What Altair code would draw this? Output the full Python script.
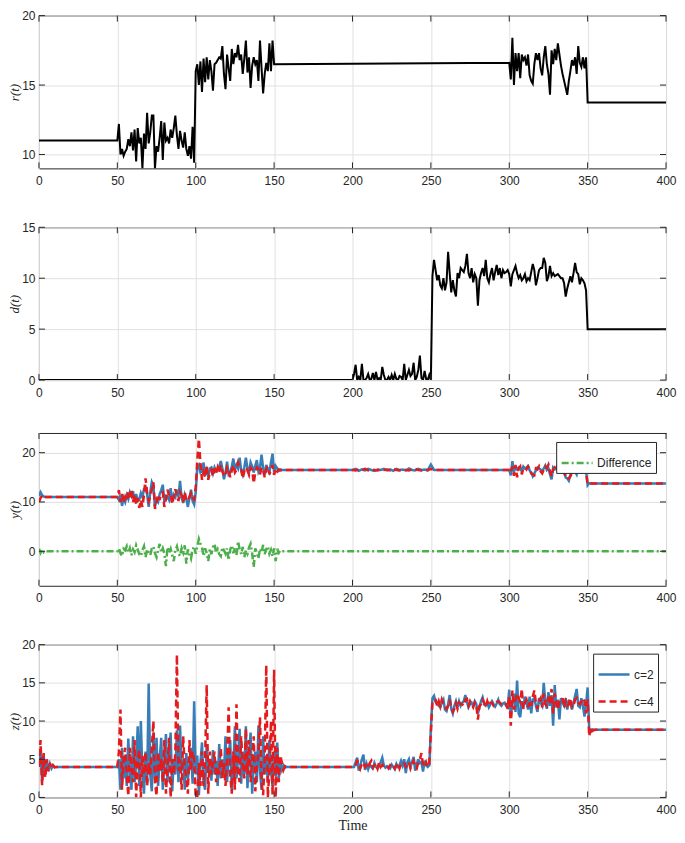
import altair as alt
import pandas as pd

# ---------------- data ----------------
X_TICKS = [0, 50, 100, 150, 200, 250, 300, 350, 400]

# r(t): 11 until t=50, noisy 50..150, 16.5 until 300, noisy 300..350, 13.75 after
R_START = 11.0
R_SEG1_T0 = 50
R_SEG1 = [
    11.0, 12.2, 10.0, 10.4, 9.9, 10.2, 10.4, 11.1, 10.6, 11.6,
    10.3, 11.8, 9.5, 11.9, 10.8, 11.2, 9.0, 11.5, 10.4, 13.0,
    10.8, 11.6, 12.8, 12.8, 9.0, 10.6, 10.2, 11.2, 12.4, 9.6,
    12.3, 11.0, 11.2, 10.8, 11.8, 11.2, 11.9, 12.8, 11.4, 10.4,
    11.7, 11.0, 10.5, 11.6, 10.4, 9.9, 10.6, 9.7, 12.0, 9.4,
    16.0, 16.5, 15.0, 16.7, 14.5, 16.9, 15.2, 17.0, 15.4, 16.8,
    16.0, 14.6, 16.5, 16.6, 16.8, 17.0, 16.9, 17.8, 15.8, 14.7,
    17.2, 16.2, 15.3, 17.6, 16.5, 17.3, 17.0, 17.9, 16.8, 17.2,
    15.8, 16.9, 18.2, 15.9, 17.0, 14.8, 16.4, 17.0, 16.5, 16.8,
    15.3, 18.2, 16.2, 14.4, 15.8, 16.6, 16.0, 18.0, 16.0, 18.2,
    16.5,
]
R_SEG2_T0 = 300
R_SEG2 = [
    16.6, 15.4, 18.4, 15.0, 17.3, 16.0, 17.3, 15.5, 17.2, 16.8,
    17.0, 16.4, 17.2, 15.7, 15.3, 15.1, 16.5, 17.3, 16.8, 17.3,
    16.2, 15.7, 17.0, 17.8, 16.5, 15.8, 14.3, 17.5, 16.5, 17.6,
    16.8, 18.0, 17.2, 16.4, 15.8, 15.3, 14.8, 14.3, 15.3, 16.0,
    16.8, 16.4, 17.0, 15.8, 17.8, 16.6, 16.3, 17.0, 16.2, 17.0,
    13.75,
]
R_END = 13.75
R_TICKS = [10, 15, 20]

# d(t): 0 until 200, small spikes 200..250, noisy 250..350, 5 after
D_SEG_T0 = 200
D_SEG = [
    0.0, 0.6, 1.5, 0.0, 0.3, 0.0, 1.6, 0.0, 0.0, 0.2,
    0.6, 0.0, 0.1, 0.7, 0.0, 0.8, 0.0, 0.2, 0.0, 1.3,
    0.5, 0.0, 0.0, 0.3, 0.0, 0.5, 0.0, 0.6, 0.1, 0.0,
    0.4, 0.3, 0.0, 1.6, 0.0, 0.5, 1.0, 0.4, 0.6, 1.7,
    0.0, 0.3, 1.0, 2.4, 0.2, 0.0, 0.9, 0.1, 0.0, 0.5,
    0.0,
    10.2, 11.8, 10.8, 9.8, 10.3, 9.3, 9.0, 10.0, 8.8, 9.6,
    12.6, 10.5, 8.6, 9.8, 8.8, 8.2, 10.5, 10.0, 11.0, 10.8,
    10.6, 11.2, 12.4, 10.5, 10.0, 11.0, 9.6, 10.4, 10.0, 7.3,
    9.8, 10.5, 11.0, 10.2, 11.8, 10.0, 9.6, 10.4, 11.0, 9.8,
    10.6, 11.3, 10.3, 11.0, 10.0, 10.8, 10.5, 10.6, 10.8, 10.4,
    9.2, 10.4, 10.8, 11.2, 10.5, 10.0, 10.3, 9.8, 10.0, 10.4,
    9.7, 10.0, 9.8, 10.6, 11.4, 10.8, 9.3, 10.0, 10.8, 11.0,
    11.0, 12.0, 11.5, 9.7, 10.2, 11.2, 10.2, 10.5, 10.2, 10.3,
    10.4, 10.2, 10.0, 10.0, 9.5, 8.2, 9.0, 9.6, 10.2, 9.6,
    10.5, 11.5, 10.6, 10.4, 9.4, 10.0, 9.8, 9.5, 8.8, 5.0,
]
D_END = 5.0
D_TICKS = [0, 5, 10, 15]

# y(t): c=2 (blue) and c=4 (red)
Y2_A = [11.2, 12.0, 11.4, 11.1, 11.0, 11.0]           # t = 0..5
Y4_A = [10.0, 10.8, 11.3, 10.9, 11.0, 11.0]
Y2_B = [                                               # t = 50..155
    11.0, 10.4, 11.5, 9.2, 10.8, 10.0, 11.4, 10.6, 12.0, 11.2,
    12.2, 10.0, 11.6, 10.2, 10.5, 11.8, 11.0, 12.6, 13.0, 11.5,
    9.0, 12.0, 14.0, 13.2, 9.0, 10.5, 10.0, 11.6, 12.4, 13.5,
    10.0, 11.2, 11.0, 10.4, 12.8, 10.0, 11.5, 11.0, 12.5, 11.0,
    14.3, 10.8, 9.8, 11.5, 10.6, 9.0, 10.8, 12.5, 10.2, 9.5,
    12.0, 17.0, 17.5, 16.0, 16.2, 18.0, 15.5, 16.5, 15.0, 16.8,
    17.0, 15.8, 17.0, 16.2, 16.5, 17.2, 18.3, 16.8, 14.6, 16.0,
    18.2, 15.6, 16.0, 17.2, 18.8, 16.5, 17.5, 16.8, 19.0, 16.4,
    15.5, 17.0, 19.0, 16.8, 16.0, 18.0, 17.2, 16.0, 17.4, 18.5,
    16.2, 17.0, 19.6, 16.8, 15.5, 17.5, 16.6, 16.0, 18.0, 19.8,
    16.0, 17.3, 16.8, 16.3, 16.6, 16.5,
]
Y4_B = [
    11.0, 12.4, 10.0, 11.6, 9.8, 11.0, 10.2, 12.0, 11.0, 12.6,
    10.0, 11.6, 9.5, 10.8, 8.8, 10.4, 9.0, 11.4, 14.8, 12.0,
    10.2, 11.0, 12.5, 14.0, 8.6, 10.0, 11.5, 10.4, 11.8, 12.0,
    9.0, 10.6, 12.5, 11.2, 11.5, 9.6, 11.0, 12.6, 11.2, 10.2,
    12.0, 11.4, 10.0, 12.0, 10.4, 10.2, 11.0, 11.8, 10.8, 10.5,
    13.0, 18.5, 22.8, 18.0, 14.5, 16.0, 15.0, 17.5, 14.5, 16.0,
    16.5, 15.2, 16.8, 15.8, 17.0, 16.0, 17.5, 16.2, 15.5, 15.2,
    17.0, 16.4, 15.0, 16.4, 17.5, 16.0, 16.5, 18.0, 17.2, 16.6,
    14.8, 16.2, 17.0, 16.4, 15.5, 17.0, 16.6, 13.8, 16.0, 17.0,
    16.8, 15.6, 17.0, 16.4, 15.0, 16.8, 17.2, 15.6, 16.6, 17.5,
    15.5, 16.8, 16.2, 16.6, 16.4, 16.5,
]
Y2_C = [                                               # t = 200..252, step 2
    16.5, 16.7, 16.3, 16.6, 16.4, 16.7, 16.5, 16.3, 16.6, 16.5,
    16.7, 16.4, 16.6, 16.3, 16.7, 16.5, 16.6, 16.4, 16.8, 16.5,
    16.4, 16.7, 16.5, 16.6, 16.4, 17.6, 16.5,
]
Y4_C = [
    16.5, 16.4, 16.6, 16.5, 16.7, 16.4, 16.6, 16.5, 16.4, 16.6,
    16.5, 16.6, 16.4, 16.7, 16.5, 16.4, 16.6, 16.5, 16.4, 16.6,
    16.7, 16.5, 16.4, 16.6, 16.5, 16.7, 16.5,
]
Y2_D = [                                               # t = 300..352
    16.5, 15.4, 18.3, 16.2, 17.0, 16.6, 17.0, 16.8, 16.2, 17.2,
    16.8, 17.0, 17.3, 16.4, 16.0, 15.2, 15.8, 16.4, 17.0, 16.8,
    16.6, 16.2, 16.8, 17.4, 16.5, 16.8, 15.6, 14.6, 17.0, 16.6,
    16.8, 17.4, 18.6, 17.0, 16.4, 16.0, 15.0, 14.8, 14.3, 15.5,
    16.2, 17.0, 16.2, 15.6, 17.0, 16.8, 16.6, 16.2, 16.8, 16.4,
    13.4, 13.8, 13.75,
]
Y4_D = [
    16.5, 16.0, 17.2, 15.3, 17.5, 15.0, 16.8, 17.2, 15.6, 16.8,
    17.0, 16.6, 17.2, 16.8, 15.8, 15.6, 15.4, 16.8, 16.6, 17.2,
    16.2, 15.8, 16.5, 17.2, 16.9, 17.6, 16.2, 15.2, 16.6, 17.0,
    16.4, 17.0, 17.6, 17.2, 16.6, 15.8, 15.4, 14.6, 14.8, 15.2,
    16.0, 16.8, 16.6, 15.8, 16.8, 17.0, 16.2, 16.6, 17.0, 16.0,
    13.6, 13.6, 13.75,
]
Y_END = 13.75
DIFF_A = [0.5, -0.3, 0.4, -0.2, 0.1, 0.0]              # t = 0..5
DIFF_B = [                                             # t = 50..155
    0.0, 0.6, -0.4, -1.0, 0.5, 0.2, 1.0, -0.3, 0.6, -0.8,
    0.4, -0.2, 1.2, 0.3, -0.6, -1.0, 0.2, 1.0, -1.2, 0.4,
    -0.3, -0.8, 0.6, 1.0, -0.4, -1.2, 0.3, 1.5, -0.2, 0.6,
    -0.5, -3.0, 0.8, -0.3, 0.5, -0.8, -2.0, 0.2, 1.0, -0.4,
    -1.0, 0.6, -0.3, 1.2, -2.5, 0.4, -0.6, -1.5, 0.3, 1.0,
    -0.5, 1.0, 2.5, 1.5, 0.8, -1.0, 0.6, -0.4, -2.0, 0.5,
    -0.6, 0.9, 1.5, -0.3, 0.4, -0.6, -1.0, 0.8, 0.2, -0.5,
    0.6, -1.8, 0.3, 1.2, -0.4, 0.7, -0.8, 2.0, 0.4, -0.6,
    0.9, -1.2, 0.2, -0.5, 0.8, 1.5, -0.4, -3.2, 0.6, -0.3,
    -1.5, 0.5, -0.2, 1.3, -0.6, 0.4, 1.0, -0.5, 0.3, -1.0,
    0.6, -2.0, 0.5, -0.3, 0.2, 0.0,
]
Y_TICKS = [0, 10, 20]

# z(t): c=2 (blue) and c=4 (red)
Z2_A = [4.0, 6.2, 2.0, 5.6, 3.0, 4.8, 3.5, 4.4, 3.8, 4.2, 3.95, 4.0]   # t = 0..11
Z4_A = [4.0, 7.5, 1.6, 5.8, 2.6, 5.0, 3.4, 4.5, 3.8, 4.2, 3.95, 4.0]
Z2_B = [                                               # t = 50..158
    4.0, 5.0, 1.0, 6.5, 2.5, 5.5, 1.5, 7.7, 3.0, 1.0,
    8.0, 2.0, 4.5, 9.3, 1.5, 10.0, 3.0, 0.5, 6.0, 2.0,
    14.9, 3.0, 0.8, 8.5, 2.5, 7.8, 1.5, 5.0, 7.8, 1.0,
    4.5, 8.3, 2.0, 5.5, 8.5, 0.8, 5.0, 3.0, 8.8, 2.0,
    9.4, 3.5, 5.0, 1.0, 5.8, 2.5, 4.0, 6.5, 1.8, 12.6,
    3.0, 5.5, 0.3, 4.5, 7.2, 2.0, 1.0, 7.0, 3.5, 5.0,
    2.2, 6.2, 3.0, 4.8, 1.5, 7.0, 2.5, 5.0, 3.0, 8.0,
    2.0, 5.5, 7.5, 0.8, 4.0, 9.3, 2.5, 5.0, 9.0, 1.8,
    6.0, 3.0, 9.3, 1.2, 5.5, 8.5, 0.5, 4.5, 6.0, 2.0,
    9.4, 3.5, 1.0, 8.0, 3.0, 5.5, 2.0, 7.5, 3.5, 1.5,
    6.0, 2.8, 7.2, 2.5, 4.5, 3.6, 4.2, 3.9, 4.0,
]
Z4_B = [
    4.0, 6.0, 11.5, 1.0, 5.0, 6.5, 3.0, 0.2, 6.5, 4.0,
    2.0, 7.5, 0.0, 5.0, 6.3, 0.0, 5.5, 3.0, 6.0, 1.5,
    4.5, 3.0, 6.5, 10.0, 2.0, 0.2, 6.0, 3.5, 5.0, 2.0,
    7.5, 0.5, 4.0, 7.8, 0.0, 5.0, 3.0, 6.0, 18.7, 3.5,
    5.0, 1.0, 8.0, 4.0, 2.5, 0.5, 7.5, 3.5, 6.0, 5.0,
    0.0, 0.0, 4.5, 1.5, 6.0, 1.5, 5.0, 14.7, 0.5, 6.0,
    3.0, 4.5, 6.0, 2.0, 4.0, 3.0, 6.5, 2.5, 4.5, 1.5,
    5.0, 11.8, 3.0, 0.5, 6.0, 1.0, 12.2, 3.5, 2.0, 8.0,
    4.0, 2.5, 9.0, 3.0, 7.5, 2.0, 5.0, 8.0, 0.8, 4.0,
    6.0, 10.5, 2.0, 0.3, 5.0, 17.3, 0.0, 3.5, 10.0, 0.3,
    16.7, 0.0, 6.5, 2.0, 5.5, 4.5, 3.6, 4.1, 4.0,
]
Z2_C = [                                               # t = 200..355
    4.0, 4.0, 4.6, 5.2, 3.5, 4.2, 5.0, 5.6, 3.6, 4.4,
    3.7, 4.3, 4.0, 3.8, 4.5, 4.0, 3.8, 4.2, 4.6, 5.2,
    4.2, 3.9, 4.1, 4.0, 3.8, 4.3, 4.0, 3.7, 4.4, 4.0,
    4.2, 4.8, 4.2, 5.0, 3.2, 4.6, 5.0, 4.0, 4.6, 5.3,
    3.5, 4.4, 5.0, 4.5, 4.6, 3.4, 4.8, 4.2, 4.0, 4.2,
    9.0, 13.0,
    13.3, 12.5, 12.3, 12.0, 11.8, 12.4, 12.8, 11.5,
    11.3, 12.2, 13.4, 11.6, 11.0, 12.0, 12.6, 11.8, 12.6, 12.0,
    12.4, 12.6, 13.4, 12.5, 11.8, 12.2, 12.4, 12.0, 12.6, 12.2,
    11.0, 11.8, 12.6, 13.1, 12.2, 12.0, 12.4, 11.8, 12.2, 12.6,
    12.2, 11.9, 12.3, 12.8, 12.2, 12.0, 12.3, 12.4, 12.0, 11.8,
    14.1, 10.5, 12.5, 13.6, 11.2, 15.3, 11.0, 10.5, 12.6, 11.8,
    13.2, 12.5, 11.5, 13.2, 11.0, 12.8, 13.0, 12.0, 11.2, 13.0,
    12.4, 12.0, 15.0, 12.5, 11.6, 13.8, 12.0, 13.4, 9.4, 14.7,
    11.8, 12.8, 10.2, 13.0, 12.4, 12.0, 13.0, 11.5, 12.6, 12.5,
    11.5, 12.4, 13.3, 14.2, 12.0, 11.8, 13.0, 12.0, 10.6, 12.2,
    14.4, 9.0, 8.6, 8.9, 8.8, 8.85,
]
Z4_C = [
    4.0, 4.0, 4.2, 4.8, 4.6, 3.8, 4.4, 4.6, 4.0, 4.2,
    3.8, 4.5, 4.8, 3.9, 4.2, 4.4, 3.8, 4.6, 4.0, 4.3,
    4.0, 4.0, 4.1, 3.8, 4.2, 4.0, 4.2, 3.8, 4.2, 4.5,
    3.8, 4.3, 4.6, 4.5, 4.0, 4.2, 4.6, 3.8, 4.4, 4.8,
    4.0, 3.8, 4.6, 5.0, 5.8, 4.2, 4.0, 4.6, 4.0, 4.4,
    8.5, 12.5,
    12.8, 12.8, 12.0, 12.6, 11.9, 12.8, 12.2, 11.8,
    11.6, 12.0, 12.8, 11.8, 11.2, 11.6, 12.3, 11.6, 12.4, 12.2,
    12.2, 12.0, 12.8, 12.9, 12.0, 12.6, 12.2, 11.8, 12.4, 12.0,
    10.2, 12.0, 12.2, 12.8, 12.4, 11.8, 12.6, 12.0, 12.4, 12.4,
    12.0, 12.2, 12.5, 12.6, 12.4, 12.2, 12.1, 12.3, 12.2, 11.6,
    13.2, 9.4, 14.0, 11.5, 12.8, 13.6, 13.0, 12.5, 14.2, 11.6,
    12.4, 12.8, 11.8, 12.6, 12.0, 13.2, 14.0, 12.4, 11.6, 12.6,
    13.0, 11.8, 13.6, 12.2, 12.0, 13.2, 12.4, 14.2, 11.0, 13.6,
    12.6, 11.5, 12.5, 12.4, 13.0, 11.8, 12.6, 12.0, 12.2, 13.0,
    11.8, 12.0, 12.8, 13.0, 12.4, 12.2, 12.6, 13.0, 12.6, 11.0,
    12.8, 8.0, 9.2, 8.7, 8.85, 8.85,
]
Z_END = 8.85
Z_TICKS = [0, 5, 10, 15, 20]

# ---------------- helpers ----------------
BLUE, RED, GREEN = "#377eb8", "#e41a1c", "#4daf4a"
INK = "#262626"
W, H = 628, 153
TL = 6
DASH_RED = [7, 4]
DASH_GREEN = [7, 3, 2, 3]


def build(parts, t_end=None, v_end=None):
    ts, vs = [], []
    for t0, step, vals in parts:
        ts += [t0 + i * step for i in range(len(vals))]
        vs += list(vals)
    if t_end is not None:
        ts.append(t_end)
        vs.append(v_end)
    return pd.DataFrame({"time": ts, "val": vs})


r_df = build([(0, 1, [R_START]), (R_SEG1_T0, 1, R_SEG1), (R_SEG2_T0, 1, R_SEG2)], 400, R_END)
d_df = build([(0, 1, [0.0]), (D_SEG_T0, 1, D_SEG)], 400, D_END)
y2_df = build([(0, 1, Y2_A), (50, 1, Y2_B), (200, 2, Y2_C), (300, 1, Y2_D)], 400, Y_END)
y4_df = build([(0, 1, Y4_A), (50, 1, Y4_B), (200, 2, Y4_C), (300, 1, Y4_D)], 400, Y_END)
df_df = build([(0, 1, DIFF_A), (50, 1, DIFF_B)], 400, 0.0)
df_df["lg"] = "Difference"
z2_df = build([(0, 1, Z2_A), (50, 1, Z2_B), (200, 1, Z2_C)], 400, Z_END)
z2_df["series"] = "c=2"
z4_df = build([(0, 1, Z4_A), (50, 1, Z4_B), (200, 1, Z4_C)], 400, Z_END)
z4_df["series"] = "c=4"


def enc(ydomain, yticks, ytitle, xtitle=None):
    xaxis_kw = dict(values=X_TICKS, labelPadding=7, labelFlush=False, labelOverlap=False)
    if xtitle:
        xaxis_kw.update(title=xtitle, titlePadding=3, titleFontStyle="normal", titleFontSize=14)
    else:
        xaxis_kw.update(title=None)
    X = alt.X("time:Q", scale=alt.Scale(domain=[0, 400], nice=False, zero=False),
              axis=alt.Axis(**xaxis_kw))
    Y = alt.Y("val:Q", scale=alt.Scale(domain=ydomain, nice=False, zero=False),
              axis=alt.Axis(values=yticks, title=ytitle, labelPadding=4, titlePadding=0,
                            titleFontSize=13, labelFlush=False, labelOverlap=False,
                            titleFontStyle="italic"))
    return X, Y


def ticks(X, Y, yticks):
    xt = pd.DataFrame({"time": X_TICKS})
    yt = pd.DataFrame({"val": yticks})
    m = dict(color=INK, strokeWidth=1)
    return [
        alt.Chart(xt).mark_rule(**m).encode(x=X, y=alt.value(0), y2=alt.value(TL)),
        alt.Chart(xt).mark_rule(**m).encode(x=X, y=alt.value(H), y2=alt.value(H - TL)),
        alt.Chart(yt).mark_rule(**m).encode(y=Y, x=alt.value(0), x2=alt.value(TL)),
        alt.Chart(yt).mark_rule(**m).encode(y=Y, x=alt.value(W), x2=alt.value(W - TL)),
    ]


def legend(x, y, **extra):
    return alt.Legend(orient="none", legendX=x, legendY=y, title=None, symbolType="stroke",
                      symbolSize=961, symbolStrokeWidth=2.5, labelFont="Liberation Sans",
                      labelFontSize=12, labelColor=INK, strokeColor=INK, fillColor="white",
                      padding=4, rowPadding=4, labelOffset=3, cornerRadius=0, **extra)


# panel 1
X, Y = enc([9, 20], R_TICKS, "r(t)")
p1 = alt.layer(
    alt.Chart(r_df).mark_line(color="black", strokeWidth=2, clip=True).encode(x=X, y=Y),
    *ticks(X, Y, R_TICKS),
).properties(width=W, height=H)

# panel 2
X, Y = enc([0, 15], D_TICKS, "d(t)")
p2 = alt.layer(
    alt.Chart(d_df).mark_line(color="black", strokeWidth=2, clip=True).encode(x=X, y=Y),
    *ticks(X, Y, D_TICKS),
).properties(width=W, height=H)

# panel 3
X, Y = enc([-7, 24], Y_TICKS, "y(t)")
p3 = alt.layer(
    alt.Chart(y2_df).mark_line(color=BLUE, strokeWidth=2.5, clip=True).encode(x=X, y=Y),
    alt.Chart(y4_df).mark_line(color=RED, strokeWidth=2.5, strokeDash=DASH_RED, clip=True).encode(x=X, y=Y),
    alt.Chart(df_df).mark_line(strokeWidth=2.5, strokeDash=DASH_GREEN, clip=True).encode(
        x=X, y=Y,
        color=alt.Color("lg:N", scale=alt.Scale(domain=["Difference"], range=[GREEN]),
                        legend=legend(518, 9, symbolDash=DASH_GREEN)),
    ),
    *ticks(X, Y, Y_TICKS),
).properties(width=W, height=H)

# panel 4
X, Y = enc([0, 20], Z_TICKS, "z(t)", xtitle="Time")
cs = alt.Scale(domain=["c=2", "c=4"], range=[BLUE, RED])
ds = alt.Scale(domain=["c=2", "c=4"], range=[[1, 0], DASH_RED])
zl = legend(555, 9)
p4 = alt.layer(
    alt.Chart(z2_df).mark_line(strokeWidth=2.5, clip=True).encode(
        x=X, y=Y, color=alt.Color("series:N", scale=cs, legend=zl),
        strokeDash=alt.StrokeDash("series:N", scale=ds, legend=zl)),
    alt.Chart(z4_df).mark_line(strokeWidth=2.5, clip=True).encode(
        x=X, y=Y, color=alt.Color("series:N", scale=cs, legend=zl),
        strokeDash=alt.StrokeDash("series:N", scale=ds, legend=zl)),
    *ticks(X, Y, Z_TICKS),
).properties(width=W, height=H)

chart = (
    alt.vconcat(p1, p2, p3, p4, spacing=33)
    .resolve_scale(x="independent", y="independent", color="independent", strokeDash="independent")
    .resolve_axis(x="independent", y="independent")
    .resolve_legend(color="independent", strokeDash="independent")
    .properties(padding=0)
    .configure_view(stroke=INK, strokeWidth=1)
    .configure_axis(domain=False, ticks=False, tickSize=0, grid=True, gridColor="#e0e0e0",
                    gridWidth=1, labelFont="Liberation Sans", labelFontSize=12, labelColor=INK,
                    titleFont="Liberation Serif", titleFontSize=14, titleFontWeight="normal",
                    titleColor=INK)
)

chart.save("out.html", embed_options={"renderer": "svg", "actions": False})
